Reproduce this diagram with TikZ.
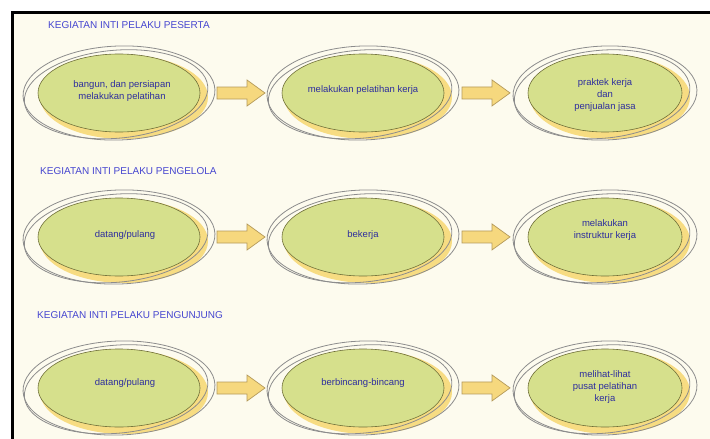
\documentclass[tikz,border=0pt]{standalone}
\usepackage{fontspec}
\setmainfont{Liberation Sans}
\usetikzlibrary{shapes.geometric,positioning}

\definecolor{paper}{HTML}{FDFBEE}
\definecolor{leaf}{HTML}{D6E08C}
\definecolor{leafline}{HTML}{6E6E38}
\definecolor{crescent}{HTML}{F7DC82}
\definecolor{ringgray}{HTML}{8C8C8C}
\definecolor{fatfill}{HTML}{F6D87E}
\definecolor{fatline}{HTML}{B59A5A}
\definecolor{inktext}{HTML}{2E2E9E}
\definecolor{inktitle}{HTML}{4646D0}

\begin{document}
\begin{tikzpicture}[x=1pt,y=-1pt,
    title/.style={anchor=west, inner sep=0pt, text=inktitle, font=\fontsize{10}{11}\selectfont},
    lbl/.style={align=center, text=inktext, font=\fontsize{9.5}{12}\selectfont},
    ring/.style={draw=ringgray, line width=0.8pt},
    outer/.style={ellipse, ring, minimum height=94pt, inner sep=0pt},
    fat/.style={fill=fatfill, draw=fatline, line width=0.7pt, line join=miter}]
    \useasboundingbox (0,0) rectangle (710,439);
    \fill[white] (0,0) rectangle (710,439);
    \fill[paper] (12,12) rectangle (710,439);
    \draw[line width=3pt] (12,439) -- (12,12) -- (710,12);

    % judul tiap baris
    \node[title] (t1) at (48,25) {KEGIATAN INTI PELAKU PESERTA};
    \node[title] (t2) at (40,171) {KEGIATAN INTI PELAKU PENGELOLA};
    \node[title] (t3) at (37,315) {KEGIATAN INTI PELAKU PENGUNJUNG};

    % elips bertumpuk
    \foreach \n/\cx/\cy/\r in {a1/119/93/96, a2/363/93/96, a3/605/93/92,
                               b1/119/237/96, b2/363/237/96, b3/605/237/92,
                               c1/119/388/96, c2/363/388/96, c3/605/388/92}{
        \fill[crescent] (\cx+5,\cy+4) ellipse [x radius=\r-12, y radius=42];
        \filldraw[fill=leaf, draw=leafline, line width=0.6pt] (\cx,\cy) ellipse [x radius=\r-15, y radius=39];
        \draw[ring, rotate around={5:(\cx,\cy)}] (\cx-3,\cy+1) ellipse [x radius=\r-4, y radius=44];
        \node[outer, minimum width=2*\r, rotate=2] (\n) at (\cx,\cy) {};
    }

    \node[lbl] at ([xshift=3pt,yshift=2pt]a1) {bangun, dan persiapan\\melakukan pelatihan};
    \node[lbl] at ([yshift=3pt]a2) {melakukan pelatihan kerja};
    \node[lbl] at ([yshift=-2pt]a3) {praktek kerja\\dan\\penjualan jasa};
    \node[lbl] at ([xshift=6pt,yshift=2pt]b1) {datang/pulang};
    \node[lbl] at ([yshift=2pt]b2) {bekerja};
    \node[lbl] at ([yshift=7pt]b3) {melakukan\\instruktur kerja};
    \node[lbl] at ([xshift=6pt,yshift=5pt]c1) {datang/pulang};
    \node[lbl] at ([yshift=5pt]c2) {berbincang-bincang};
    \node[lbl] at ([yshift=1pt]c3) {melihat-lihat\\pusat pelatihan\\kerja};

    % panah blok
    \foreach \u/\v in {a1/a2, a2/a3, b1/b2, b2/b3, c1/c2, c2/c3}{
        \path (\u.east) -- coordinate (m) (\v.west);
        \filldraw[fat] ([shift={(-24,-6)}]m) -- ++(30,0) -- ++(0,-7) -- ++(18,13)
            -- ++(-18,13) -- ++(0,-7) -- ++(-30,0) -- cycle;
    }
\end{tikzpicture}
\end{document}
